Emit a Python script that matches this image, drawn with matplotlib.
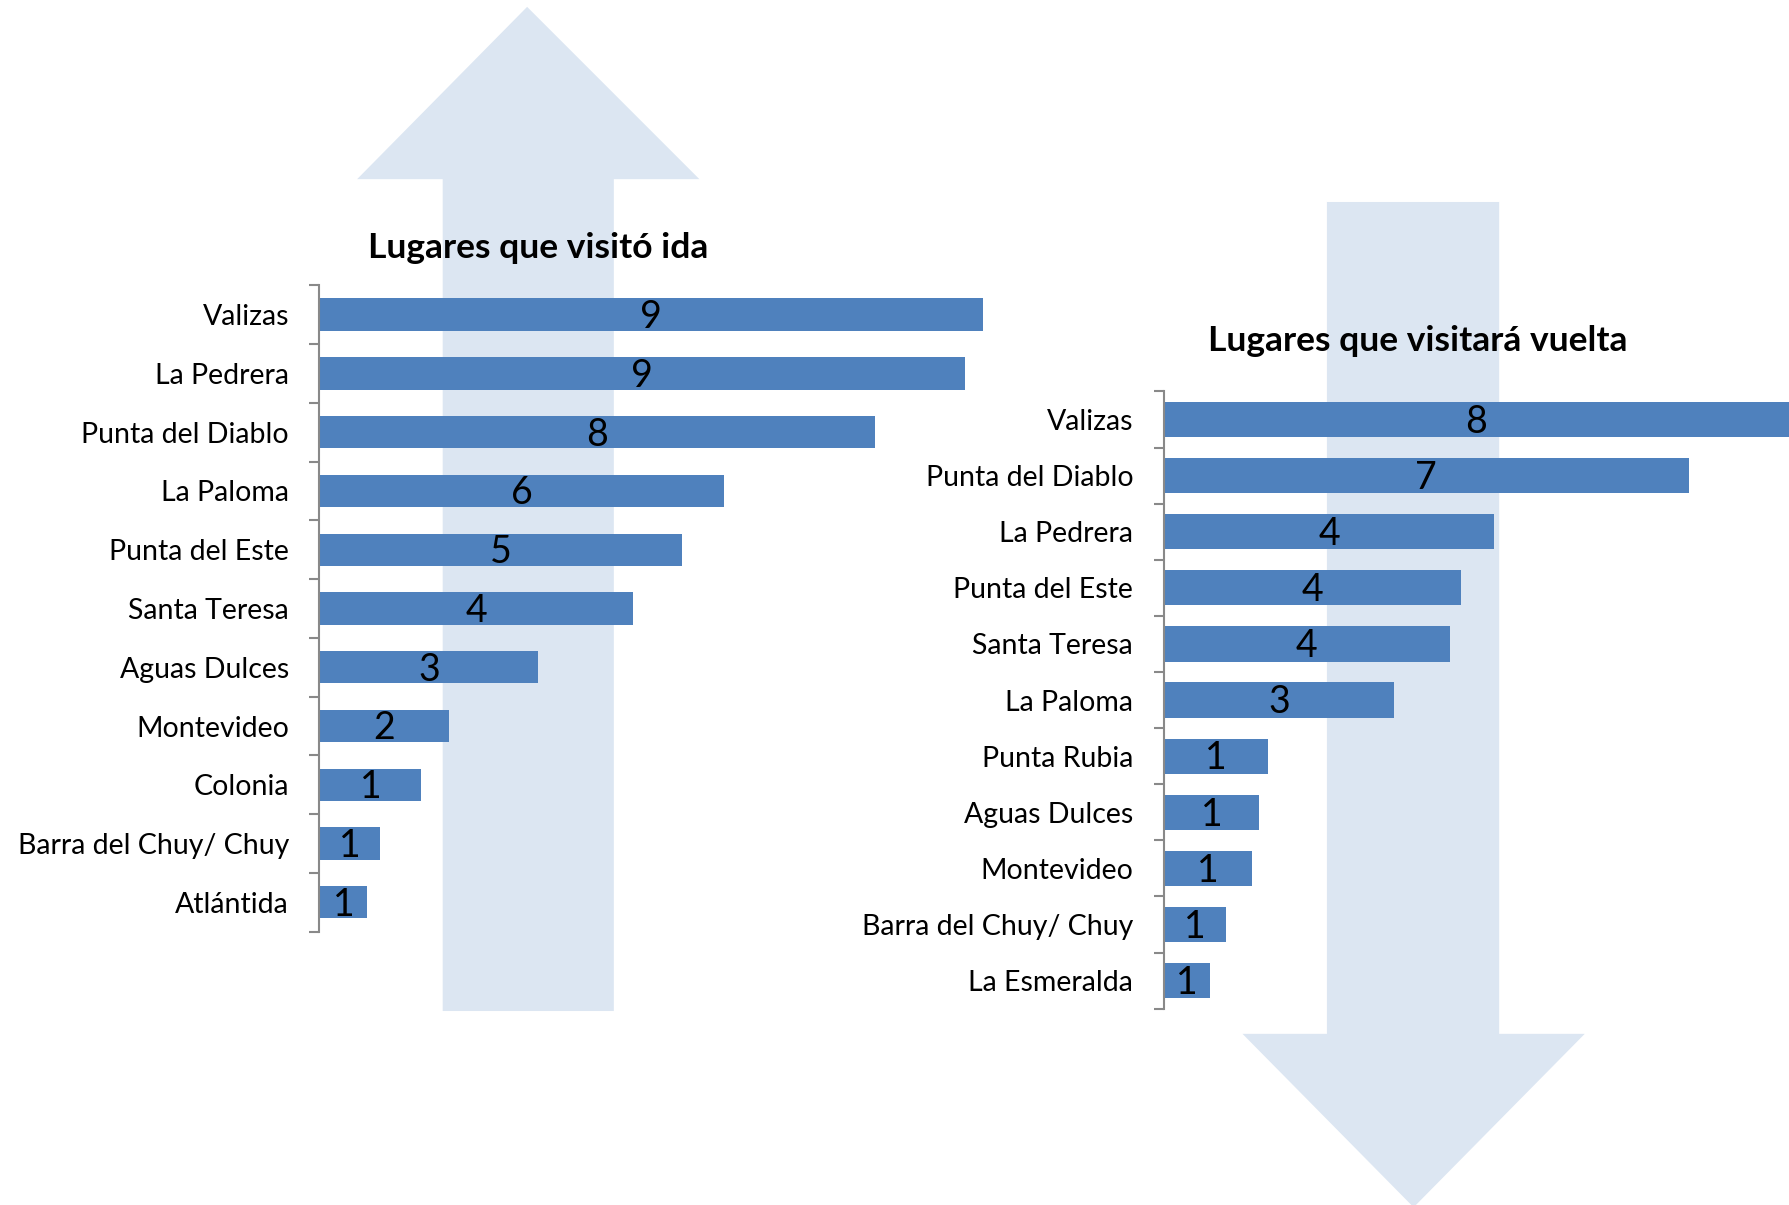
import matplotlib
matplotlib.use("Agg")
import matplotlib.pyplot as plt
from matplotlib.patches import Polygon

plt.rcParams['font.family'] = ['Lato', 'DejaVu Sans']

# ---- data ----
ida_places = ["Valizas", "La Pedrera", "Punta del Diablo", "La Paloma", "Punta del Este",
              "Santa Teresa", "Aguas Dulces", "Montevideo", "Colonia",
              "Barra del Chuy/ Chuy", "Atlántida"]
ida_values = [9.4, 9.14, 7.87, 5.73, 5.14, 4.44, 3.1, 1.84, 1.44, 0.86, 0.68]
ida_labels = [9, 9, 8, 6, 5, 4, 3, 2, 1, 1, 1]

vuelta_places = ["Valizas", "Punta del Diablo", "La Pedrera", "Punta del Este", "Santa Teresa",
                 "La Paloma", "Punta Rubia", "Aguas Dulces", "Montevideo",
                 "Barra del Chuy/ Chuy", "La Esmeralda"]
vuelta_values = [8.3, 6.97, 4.39, 3.95, 3.8, 3.06, 1.39, 1.27, 1.17, 0.82, 0.62]
vuelta_labels = [8, 7, 4, 4, 4, 3, 1, 1, 1, 1, 1]

titles = ["Lugares que visitó ida", "Lugares que visitará vuelta"]

BAR = "#4F81BD"
ARROW = "#DCE6F2"
W, H = 1568.0, 1056.0

fig = plt.figure(figsize=(17.89, 12.05), dpi=100)

def fx(x):
    return x / W

def fy(y):
    return 1 - y / H

# arrows (figure coordinates, reference pixel positions)
up = [(388, 886), (538, 886), (538, 157), (613, 157), (462, 6), (313, 157), (388, 157)]
down = [(1163, 177), (1314, 177), (1314, 906), (1389, 906), (1239, 1058), (1089, 906), (1163, 906)]
for pts in (up, down):
    fig.patches.append(Polygon([(fx(x), fy(y)) for x, y in pts], closed=True,
                               transform=fig.transFigure, facecolor=ARROW,
                               edgecolor='none', zorder=-5))

def make_panel(rect, places, values, labels, xmax, height, title, title_xy):
    l, t, r, b = rect
    ax = fig.add_axes([fx(l), fy(b), fx(r) - fx(l), fy(t) - fy(b)])
    ax.set_zorder(2)
    ax.patch.set_alpha(0)
    n = len(places)
    y = list(range(n))
    ax.barh(y, values, height=height, color=BAR, zorder=2)
    for yi, v, lab in zip(y, values, labels):
        ax.text(v / 2, yi + 0.04, str(lab),
                ha='center', va='center', fontsize=27, color='black', zorder=3)
    ax.set_xlim(0, xmax)
    ax.set_ylim(n - 0.5, -0.5)
    ax.set_yticks(y)
    ax.set_yticklabels(places, fontsize=20.5)
    ax.set_yticks([i - 0.5 for i in range(n + 1)], minor=True)
    ax.tick_params(axis='y', which='major', length=0, pad=22)
    ax.tick_params(axis='y', which='minor', length=7, width=1.5, color='#898989')
    ax.set_xticks([])
    for s in ['top', 'right', 'bottom']:
        ax.spines[s].set_visible(False)
    ax.spines['left'].set_color('#898989')
    ax.spines['left'].set_linewidth(1.5)
    t = fig.text(fx(title_xy[0]), fy(title_xy[1]), title, ha='center', va='center',
                 fontsize=25.5, fontweight='bold')
    t.set_zorder(3)
    return ax

make_panel((280, 250, 899, 816.5), ida_places, ida_values, ida_labels, 10.0, 0.55,
           titles[0], (472, 217))
make_panel((1020, 343, 1568, 884), vuelta_places, vuelta_values, vuelta_labels, 8.30, 0.63,
           titles[1], (1243, 299))

fig.savefig("out.png", dpi=100)
